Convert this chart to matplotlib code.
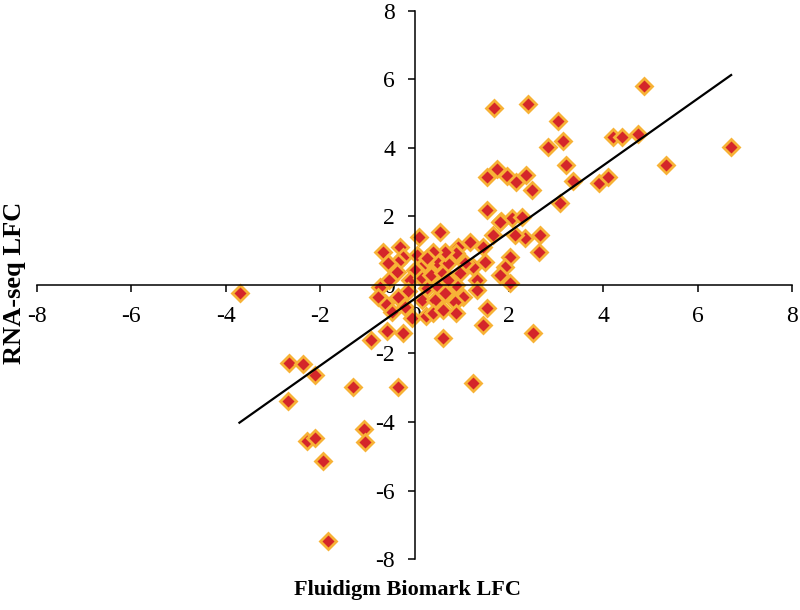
import numpy as np
import matplotlib
matplotlib.use('Agg')
import matplotlib.pyplot as plt

# Settings
xSizeInches = 8.0
ySizeInches = 6.1
dpi = 100
pointFill = '#d4262a'
pointEdge = '#f7b236'
fontName = 'Liberation Serif'

# Fluidigm Biomark LFC (x) vs RNA-seq LFC (y)
fluidigm = [4.86, 2.40, 1.69, 3.05, 2.83, 3.14, 4.20, 4.39, 4.74, 6.70, 5.34, 3.21, 3.35, 3.91, 4.11, 3.08,
            1.74, 1.54, 1.97, 2.15, 2.36, 2.48, 1.53, 1.83, 2.06, 2.27,
            2.66, 2.64, 2.34, 2.13, 1.67, 1.46, 1.18, 0.93, 2.02, 1.92, 2.02, 1.81, 1.49, 1.25,
            0.89, 1.07, 0.96, 1.32, 0.89, 1.32, 1.03, 0.86, 1.53, 0.89, 1.81,
            1.46, 2.52, 0.61, 1.24, 0.55, 0.10,
            -0.66, -0.31, -0.24, -0.36, -0.56, -0.38, 0.01, -0.73, -0.55, -0.10, 0.15, 0.36, 0.61, 0.47, 0.22,
            0.26, 0.50, 0.72, -0.13, -0.34, -0.63, -0.77, -0.48, -0.20, 0.15, 0.43, 0.65, 0.72, 0.65, 0.40,
            0.05, 0.26, -0.05, 0.24, 0.40, 0.61,
            -0.92, -0.58, -0.24, -0.34,
            -3.70, -2.66, -2.36, -2.11, -2.69, -2.28, -2.11, -1.94, -1.83, -1.31, -1.08, -1.05]
rnaseq = [5.82, 5.28, 5.16, 4.80, 4.02, 4.21, 4.33, 4.33, 4.41, 4.02, 3.49, 3.49, 3.05, 2.99, 3.14, 2.40,
          3.38, 3.14, 3.18, 3.02, 3.21, 2.77, 2.19, 1.88, 1.95, 1.99,
          1.46, 0.97, 1.36, 1.46, 1.46, 1.12, 1.26, 1.12, 0.83, 0.53, 0.05, 0.29, 0.68, 0.53,
          0.93, 0.63, 0.34, 0.15, 0.00, -0.15, -0.34, -0.49, -0.68, -0.83, 1.85,
          -1.17, -1.41, -1.56, -2.86, 1.55, 1.41,
          0.97, 1.12, 0.83, 0.68, 0.63, 0.39, 0.44, -0.05, 0.15, 0.15, 0.19, 0.29, 0.34, 0.68, 0.63,
          -0.10, -0.05, 0.15, -0.19, -0.34, -0.53, -0.34, -0.78, -0.63, -0.44, -0.44, -0.24, 0.63, 0.97, 0.97,
          0.88, 0.80, -0.95, -0.90, -0.83, -0.73,
          -1.61, -1.34, -1.41, -2.97,
          -0.22, -2.27, -2.32, -2.63, -3.39, -4.55, -4.46, -5.13, -7.47, -2.99, -4.21, -4.57]

# Trend line end points
trendX = [-3.71, 6.71]
trendY = [-4.02, 6.13]

ticks = [-8, -6, -4, -2, 0, 2, 4, 6, 8]
tickLabels = ['-8', '-6', '-4', '-2', '0', '2', '4', '6', '8']

plt.rc('font', family=fontName, size=17)
plt.rc('axes', unicode_minus=False)

fig = plt.figure(figsize=(xSizeInches, ySizeInches), dpi=dpi)
ax = fig.add_axes([0.04625, 0.0836, 0.94375, 0.8984])

ax.plot(fluidigm, rnaseq, linestyle='none', marker='D', markersize=8.5,
        markerfacecolor=pointFill, markeredgecolor=pointEdge, markeredgewidth=2.0, zorder=2)
ax.plot(trendX, trendY, c='black', lw=1.6, zorder=4)

ax.set_xlim(-8, 8)
ax.set_ylim(-8, 8)
ax.set_xticks(ticks)
ax.set_xticklabels(tickLabels)
ax.set_yticks(ticks)
ax.set_yticklabels(tickLabels)
ax.spines['left'].set_position('zero')
ax.spines['bottom'].set_position('zero')
ax.spines['top'].set_visible(False)
ax.spines['right'].set_visible(False)
for s in ['left', 'bottom']:
    ax.spines[s].set_linewidth(1.1)
ax.tick_params(axis='x', direction='out', length=5, width=1.1, pad=10)
ax.tick_params(axis='y', direction='out', length=5, width=1.1, pad=9)
ax.patch.set_alpha(0)

fig.text(408/800, 1-590/610, 'Fluidigm Biomark LFC', ha='center', va='center', fontsize=16, fontweight='bold')
fig.text(15/800, 1-283/610, 'RNA-seq LFC', ha='center', va='center', rotation=90, fontsize=19, fontweight='bold')

fig.savefig('out.png', dpi=dpi)
